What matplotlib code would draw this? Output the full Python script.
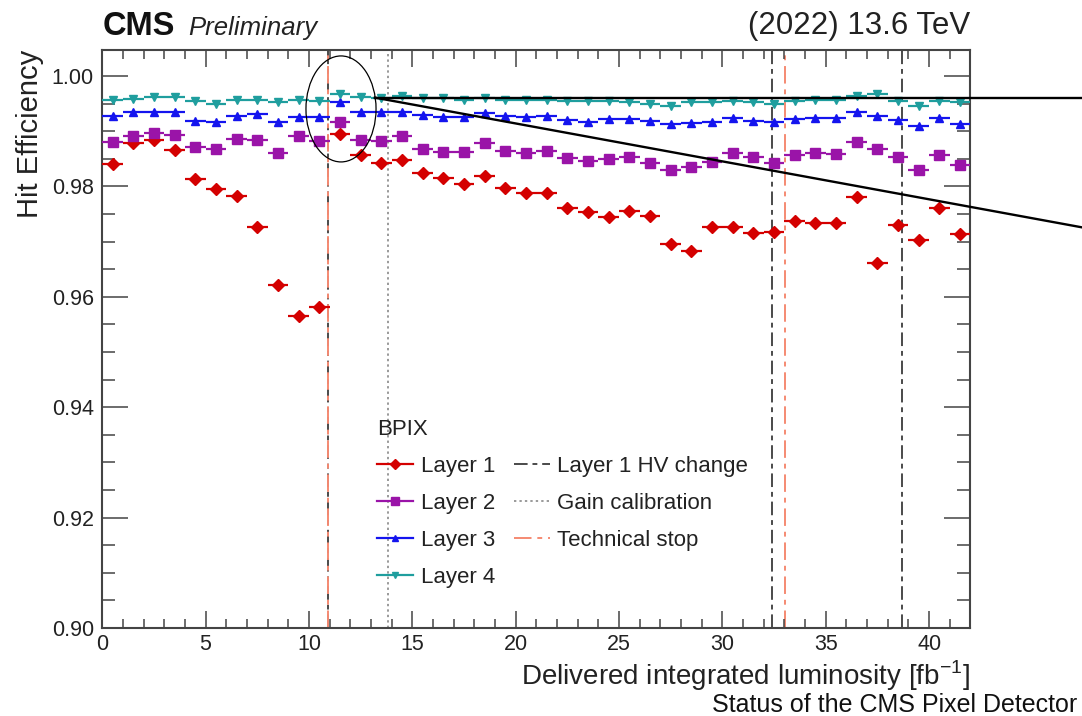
import numpy as np
import matplotlib
matplotlib.use("Agg")
import matplotlib.pyplot as plt
from matplotlib.lines import Line2D
from matplotlib.patches import Ellipse
from matplotlib.ticker import MultipleLocator, FormatStrFormatter

plt.rcParams['font.family'] = ['Liberation Sans', 'DejaVu Sans']

# Bin centres in delivered integrated luminosity [fb^-1]
lumi = [0.5, 1.5, 2.5, 3.5, 4.5, 5.5, 6.5, 7.5, 8.5, 9.5,
        10.5, 11.5, 12.5, 13.5, 14.5, 15.5, 16.5, 17.5, 18.5, 19.5,
        20.5, 21.5, 22.5, 23.5, 24.5, 25.5, 26.5, 27.5, 28.5, 29.5,
        30.5, 31.5, 32.5, 33.5, 34.5, 35.5, 36.5, 37.5, 38.5, 39.5,
        40.5, 41.5]
bin_half_width = 0.5

layer1 = [0.9840, 0.9878, 0.9884, 0.9866, 0.9813, 0.9795, 0.9783, 0.9727, 0.9621, 0.9565,
          0.9582, 0.9894, 0.9857, 0.9843, 0.9847, 0.9824, 0.9816, 0.9804, 0.9819, 0.9797,
          0.9788, 0.9788, 0.9761, 0.9754, 0.9744, 0.9756, 0.9746, 0.9696, 0.9682, 0.9727,
          0.9727, 0.9715, 0.9718, 0.9738, 0.9733, 0.9733, 0.9781, 0.9662, 0.9730, 0.9702,
          0.9760, 0.9714]
layer2 = [0.9881, 0.9892, 0.9896, 0.9893, 0.9872, 0.9867, 0.9886, 0.9884, 0.9861, 0.9891,
          0.9883, 0.9917, 0.9884, 0.9883, 0.9891, 0.9867, 0.9863, 0.9863, 0.9879, 0.9864,
          0.9861, 0.9864, 0.9852, 0.9846, 0.9850, 0.9854, 0.9843, 0.9829, 0.9835, 0.9844,
          0.9861, 0.9853, 0.9842, 0.9857, 0.9861, 0.9859, 0.9881, 0.9868, 0.9854, 0.9830,
          0.9857, 0.9839]
layer3 = [0.9928, 0.9934, 0.9934, 0.9934, 0.9919, 0.9916, 0.9928, 0.9931, 0.9916, 0.9926,
          0.9925, 0.9952, 0.9934, 0.9934, 0.9934, 0.9929, 0.9925, 0.9925, 0.9932, 0.9928,
          0.9925, 0.9928, 0.9920, 0.9917, 0.9922, 0.9922, 0.9919, 0.9913, 0.9914, 0.9916,
          0.9923, 0.9919, 0.9916, 0.9922, 0.9923, 0.9923, 0.9934, 0.9928, 0.9920, 0.9909,
          0.9923, 0.9913]
layer4 = [0.9957, 0.9958, 0.9961, 0.9961, 0.9954, 0.9949, 0.9957, 0.9957, 0.9952, 0.9957,
          0.9954, 0.9967, 0.9961, 0.9960, 0.9963, 0.9960, 0.9960, 0.9957, 0.9960, 0.9957,
          0.9957, 0.9957, 0.9954, 0.9954, 0.9954, 0.9952, 0.9949, 0.9946, 0.9952, 0.9952,
          0.9954, 0.9952, 0.9949, 0.9954, 0.9957, 0.9957, 0.9963, 0.9967, 0.9954, 0.9946,
          0.9955, 0.9952]

layer_names = ["Layer 1", "Layer 2", "Layer 3", "Layer 4"]
layer_colors = ["#d40000", "#9a14a8", "#1414ee", "#1f9e9e"]
layer_markers = ["D", "s", "^", "v"]
layer_msizes = [6.0, 6.5, 5.5, 5.5]

# Operational events [fb^-1]
hv_change = [10.93, 32.4, 38.7]
gain_calibration = [13.8]
technical_stop = [10.93, 33.05]

hv_color = "#4a4a4a"
gain_color = "#9a9a9a"
stop_color = "#f58a72"
hv_style = (0, (7, 2.5, 2.5, 2.5))
gain_style = (0, (1.2, 1.6))
stop_style = (0, (9, 3, 2.5, 3))

fig = plt.figure(figsize=(10.82, 7.16), dpi=100)
ax = fig.add_axes([0.0945, 0.1229, 0.8024, 0.8073])

for xv in hv_change:
    ax.axvline(xv, color=hv_color, lw=1.4, ls=hv_style, zorder=1)
for xv in gain_calibration:
    ax.axvline(xv, color=gain_color, lw=1.4, ls=gain_style, zorder=1)
for xv in technical_stop:
    ax.axvline(xv, color=stop_color, lw=1.4, ls=stop_style, zorder=1)

series = [layer1, layer2, layer3, layer4]
for vals, col, mk, ms in zip(series, layer_colors, layer_markers, layer_msizes):
    ax.errorbar(lumi, vals, xerr=bin_half_width, fmt=mk, color=col, ms=ms,
                elinewidth=1.6, capsize=0, mec=col, mfc=col, zorder=3)

ax.set_xlim(0, 42)
ax.set_ylim(0.90, 1.0047)

ax.xaxis.set_major_locator(MultipleLocator(5))
ax.xaxis.set_minor_locator(MultipleLocator(1))
ax.yaxis.set_major_locator(MultipleLocator(0.02))
ax.yaxis.set_minor_locator(MultipleLocator(0.005))
ax.yaxis.set_major_formatter(FormatStrFormatter("%.2f"))

axis_col = "#444444"
for sp in ax.spines.values():
    sp.set_color(axis_col)
    sp.set_linewidth(1.5)
ax.tick_params(axis="both", which="both", direction="in", top=True, right=True,
               color=axis_col, width=1.1, labelsize=15.5, labelcolor="#222222")
ax.tick_params(axis="x", which="major", length=12.5, pad=4.5)
ax.tick_params(axis="x", which="minor", length=6.5)
ax.tick_params(axis="y", which="major", length=19, pad=6)
ax.tick_params(axis="y", which="minor", length=9.5)

ax.set_xlabel("Delivered integrated luminosity [fb$^{\\mathregular{-1}}$]",
              fontsize=20, color="#222222", loc="right")
ax.xaxis.set_label_coords(1.0, -0.052)
ax.xaxis.label.set_va("top")
ax.set_ylabel("Hit Efficiency", fontsize=21, color="#222222", loc="top")
ax.yaxis.set_label_coords(-0.067, 1.0)

# Legend
handles = [Line2D([], [], color=c, marker=m, ms=s * 0.9, lw=1.6)
           for c, m, s in zip(layer_colors, layer_markers, layer_msizes)]
handles += [Line2D([], [], color=hv_color, lw=1.4, ls=hv_style),
            Line2D([], [], color=gain_color, lw=1.4, ls=gain_style),
            Line2D([], [], color=stop_color, lw=1.4, ls=stop_style)]
labels = layer_names + ["Layer 1 HV change", "Gain calibration", "Technical stop"]
leg = ax.legend(handles, labels, title="BPIX", loc="upper left",
                bbox_to_anchor=(0.317, 0.362), ncol=2, frameon=False,
                fontsize=16, title_fontsize=16, alignment="left",
                handlelength=1.6, handletextpad=0.35, columnspacing=0.85,
                labelspacing=0.72, borderpad=0, borderaxespad=0)
for t in leg.get_texts():
    t.set_color("#222222")
leg.get_title().set_color("#222222")

# Highlight of the first technical stop and guide lines
ax.add_patch(Ellipse((11.55, 0.99402), 3.39, 0.0192, fill=False, ec="black",
                     lw=0.9, zorder=5, clip_on=False))
ax.plot([13.19, 47.5], [0.99607, 0.99607], color="black", lw=1.7,
        clip_on=False, zorder=5)
ax.plot([13.19, 47.5], [0.99607, 0.97250], color="black", lw=1.7,
        clip_on=False, zorder=5)

# Header and footer
fig.text(0.0945, 0.951, "CMS", fontsize=23.5, fontweight="bold", ha="left",
         va="baseline", color="#111111")
fig.text(0.174, 0.951, "Preliminary", fontsize=18.5, fontstyle="italic",
         ha="left", va="baseline", color="#222222")
fig.text(0.8969, 0.953, "(2022) 13.6 TeV", fontsize=22.5, ha="right",
         va="baseline", color="#222222")
fig.text(0.9955, 0.006, "Status of the CMS Pixel Detector", fontsize=18,
         ha="right", va="baseline", color="#111111")

fig.savefig("out.png", dpi=100)
